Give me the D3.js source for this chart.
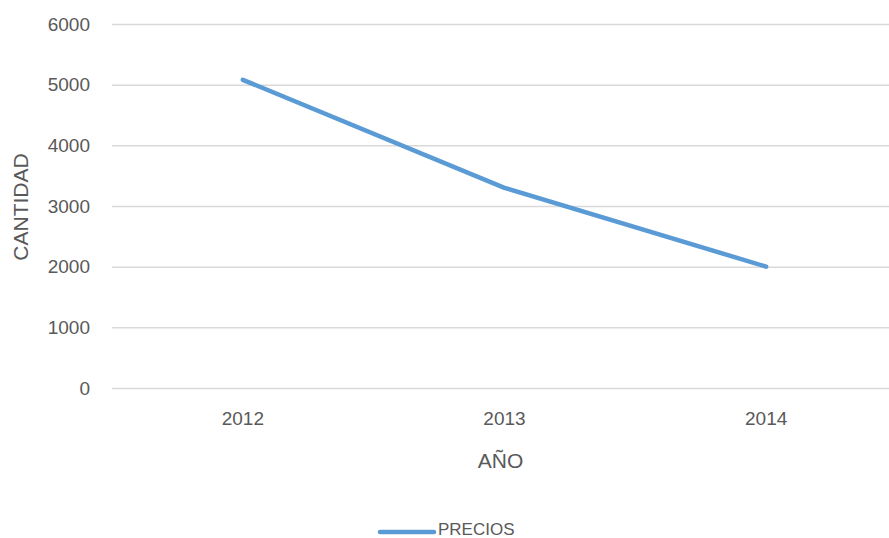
<!DOCTYPE html>
<html>
<head>
<style>
    body { margin: 0; background: #fff; font-family: "Liberation Sans", Arial, sans-serif; }
    .axis .domain { display: none; }
    .y.axis .tick line { stroke: #d9d9d9; stroke-width: 1.5px; }
    .axis text { fill: #595959; font-size: 19px; }
    .title { fill: #595959; font-size: 21px; }
</style>
</head>
<body>
<div id="chart"></div>
<script src="https://d3js.org/d3.v7.min.js"></script>
<script>
    var years = ["2012", "2013", "2014"];
    var precios = [5080, 3300, 2000];
    var yTicks = [0, 1000, 2000, 3000, 4000, 5000, 6000];

    var W = 889, H = 538;
    var plotLeft = 112, plotRight = 897, plotTop = 24, plotBottom = 388;

    var svg = d3.select("#chart").append("svg")
        .attr("width", W)
        .attr("height", H);

    var x = d3.scaleBand().domain(years).range([plotLeft, plotRight]);
    var y = d3.scaleLinear().domain([0, 6000]).range([plotBottom, plotTop]);

    // gridlines + y labels
    svg.append("g")
        .attr("class", "y axis")
        .attr("transform", "translate(" + plotLeft + ",0)")
        .call(d3.axisLeft(y).tickValues(yTicks).tickSize(-(W - plotLeft)).tickPadding(22).tickFormat(d3.format("d")));

    svg.append("g")
        .attr("class", "x axis")
        .attr("transform", "translate(0," + plotBottom + ")")
        .call(d3.axisBottom(x).tickSize(0).tickPadding(24));

    var line = d3.line()
        .x(function (d, i) { return x(years[i]) + x.bandwidth() / 2; })
        .y(function (d) { return y(d); });

    svg.append("path")
        .datum(precios)
        .attr("d", line)
        .attr("fill", "none")
        .attr("stroke", "#5b9bd5")
        .attr("stroke-width", 4.5)
        .attr("stroke-linecap", "round")
        .attr("stroke-linejoin", "round");

    // axis titles
    svg.append("text")
        .attr("class", "title")
        .attr("x", (plotLeft + plotRight) / 2 - 4)
        .attr("y", 468)
        .attr("text-anchor", "middle")
        .text("AÑO");

    svg.append("text")
        .attr("class", "title")
        .attr("transform", "translate(28," + 207 + ") rotate(-90)")
        .attr("text-anchor", "middle")
        .text("CANTIDAD");

    // legend
    svg.append("line")
        .attr("x1", 380).attr("x2", 434)
        .attr("y1", 532).attr("y2", 532)
        .attr("stroke", "#5b9bd5")
        .attr("stroke-width", 4.5)
        .attr("stroke-linecap", "round");

    svg.append("text")
        .attr("x", 438)
        .attr("y", 535)
        .attr("fill", "#595959")
        .style("font-size", "17px")
        .text("PRECIOS");
</script>
</body>
</html>
